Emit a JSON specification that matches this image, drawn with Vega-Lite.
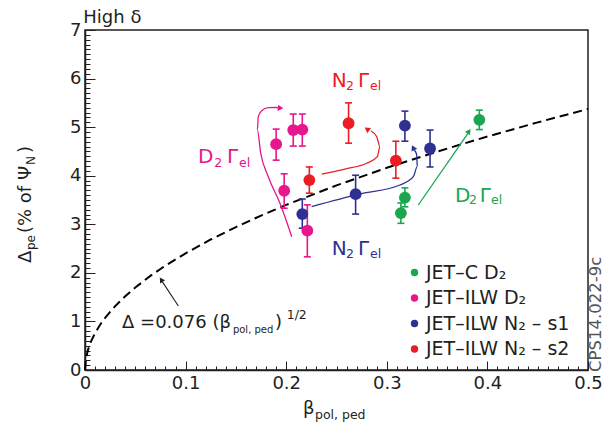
{
  "$schema": "https://vega.github.io/schema/vega-lite/v6.json",
  "width": 503,
  "height": 340,
  "autosize": {"type": "none"},
  "padding": {"left": 85, "top": 30, "right": 17, "bottom": 60},
  "background": "white",
  "config": {
    "font": "DejaVu Sans",
    "view": {"stroke": "#231F20", "strokeWidth": 1.5},
    "axis": {"labelColor": "#231F20", "tickColor": "#231F20", "domainColor": "#231F20", "labelFont": "DejaVu Sans", "grid": false, "domainWidth": 1.5, "tickWidth": 1}
  },
  "datasets": {
    "curve": [
      {"x": 0, "y": 0}, {"x": 0.001, "y": 0.24}, {"x": 0.003, "y": 0.416}, {"x": 0.006, "y": 0.589},
      {"x": 0.01, "y": 0.76}, {"x": 0.015, "y": 0.931}, {"x": 0.02, "y": 1.075}, {"x": 0.03, "y": 1.316},
      {"x": 0.04, "y": 1.52}, {"x": 0.05, "y": 1.699}, {"x": 0.065, "y": 1.938}, {"x": 0.08, "y": 2.15},
      {"x": 0.1, "y": 2.403}, {"x": 0.125, "y": 2.687}, {"x": 0.15, "y": 2.943}, {"x": 0.175, "y": 3.179},
      {"x": 0.2, "y": 3.399}, {"x": 0.25, "y": 3.8}, {"x": 0.3, "y": 4.163}, {"x": 0.35, "y": 4.496},
      {"x": 0.4, "y": 4.807}, {"x": 0.45, "y": 5.098}, {"x": 0.5, "y": 5.374}
    ],
    "pts": [
      {"series": "JET–C D₂", "x": 0.392, "y": 5.15, "ylo": 4.95, "yhi": 5.35},
      {"series": "JET–C D₂", "x": 0.318, "y": 3.55, "ylo": 3.36, "yhi": 3.75},
      {"series": "JET–C D₂", "x": 0.314, "y": 3.23, "ylo": 3.02, "yhi": 3.44},
      {"series": "JET–ILW N₂ – s1", "x": 0.216, "y": 3.21, "ylo": 2.92, "yhi": 3.52},
      {"series": "JET–ILW N₂ – s1", "x": 0.269, "y": 3.62, "ylo": 3.21, "yhi": 4.01},
      {"series": "JET–ILW N₂ – s1", "x": 0.318, "y": 5.03, "ylo": 4.71, "yhi": 5.33},
      {"series": "JET–ILW N₂ – s1", "x": 0.343, "y": 4.56, "ylo": 4.18, "yhi": 4.94},
      {"series": "JET–ILW N₂ – s2", "x": 0.262, "y": 5.08, "ylo": 4.67, "yhi": 5.5},
      {"series": "JET–ILW N₂ – s2", "x": 0.309, "y": 4.31, "ylo": 3.95, "yhi": 4.71},
      {"series": "JET–ILW N₂ – s2", "x": 0.223, "y": 3.91, "ylo": 3.64, "yhi": 4.18},
      {"series": "JET–ILW D₂", "x": 0.19, "y": 4.65, "ylo": 4.32, "yhi": 4.96},
      {"series": "JET–ILW D₂", "x": 0.207, "y": 4.94, "ylo": 4.61, "yhi": 5.27},
      {"series": "JET–ILW D₂", "x": 0.216, "y": 4.95, "ylo": 4.61, "yhi": 5.27},
      {"series": "JET–ILW D₂", "x": 0.198, "y": 3.69, "ylo": 3.33, "yhi": 4.04},
      {"series": "JET–ILW D₂", "x": 0.221, "y": 2.87, "ylo": 2.33, "yhi": 3.4}
    ],
    "arrows": [
      {"series": "JET–ILW D₂", "i": 0, "x": 0.2055, "y": 2.745},
      {"series": "JET–ILW D₂", "i": 1, "x": 0.1938, "y": 3.432},
      {"series": "JET–ILW D₂", "i": 2, "x": 0.1822, "y": 3.98},
      {"series": "JET–ILW D₂", "i": 3, "x": 0.1747, "y": 4.462},
      {"series": "JET–ILW D₂", "i": 4, "x": 0.1713, "y": 4.941},
      {"series": "JET–ILW D₂", "i": 5, "x": 0.1723, "y": 5.215},
      {"series": "JET–ILW D₂", "i": 6, "x": 0.1756, "y": 5.339},
      {"series": "JET–ILW D₂", "i": 7, "x": 0.1822, "y": 5.4},
      {"series": "JET–ILW D₂", "i": 8, "x": 0.1899, "y": 5.404},
      {"series": "JET–ILW D₂", "i": 9, "x": 0.1945, "y": 5.394},
      {"series": "JET–ILW N₂ – s2", "i": 0, "x": 0.2353, "y": 4.035},
      {"series": "JET–ILW N₂ – s2", "i": 1, "x": 0.2584, "y": 4.138},
      {"series": "JET–ILW N₂ – s2", "i": 2, "x": 0.28, "y": 4.256},
      {"series": "JET–ILW N₂ – s2", "i": 3, "x": 0.2906, "y": 4.392},
      {"series": "JET–ILW N₂ – s2", "i": 4, "x": 0.2932, "y": 4.597},
      {"series": "JET–ILW N₂ – s2", "i": 5, "x": 0.29, "y": 4.803},
      {"series": "JET–ILW N₂ – s2", "i": 6, "x": 0.2843, "y": 4.92},
      {"series": "JET–ILW N₂ – s1", "i": 0, "x": 0.2253, "y": 3.362},
      {"series": "JET–ILW N₂ – s1", "i": 1, "x": 0.2734, "y": 3.624},
      {"series": "JET–ILW N₂ – s1", "i": 2, "x": 0.3131, "y": 3.809},
      {"series": "JET–ILW N₂ – s1", "i": 3, "x": 0.3264, "y": 3.98},
      {"series": "JET–ILW N₂ – s1", "i": 4, "x": 0.3303, "y": 4.186},
      {"series": "JET–ILW N₂ – s1", "i": 5, "x": 0.3297, "y": 4.427},
      {"series": "JET–ILW N₂ – s1", "i": 6, "x": 0.3275, "y": 4.53},
      {"series": "JET–C D₂", "i": 0, "x": 0.3313, "y": 3.397},
      {"series": "JET–C D₂", "i": 1, "x": 0.381, "y": 4.88}
    ],
    "blackArrow": [
      {"i": 0, "x": 0.0928, "y": 1.318},
      {"i": 1, "x": 0.0765, "y": 1.83}
    ],
    "labelsMain": [
      {"series": "JET–ILW D₂", "t": "D", "x": 0.1123, "y": 4.262},
      {"series": "JET–ILW D₂", "t": "Γ", "x": 0.1412, "y": 4.262},
      {"series": "JET–ILW N₂ – s2", "t": "N", "x": 0.2452, "y": 5.833},
      {"series": "JET–ILW N₂ – s2", "t": "Γ", "x": 0.2714, "y": 5.833},
      {"series": "JET–ILW N₂ – s1", "t": "N", "x": 0.2452, "y": 2.368},
      {"series": "JET–ILW N₂ – s1", "t": "Γ", "x": 0.2714, "y": 2.368},
      {"series": "JET–C D₂", "t": "D", "x": 0.3678, "y": 3.465},
      {"series": "JET–C D₂", "t": "Γ", "x": 0.3925, "y": 3.465}
    ],
    "labelsSub": [
      {"series": "JET–ILW D₂", "t": "2", "x": 0.1285, "y": 4.18},
      {"series": "JET–ILW D₂", "t": "el", "x": 0.1531, "y": 4.18},
      {"series": "JET–ILW N₂ – s2", "t": "2", "x": 0.2594, "y": 5.765},
      {"series": "JET–ILW N₂ – s2", "t": "el", "x": 0.2833, "y": 5.765},
      {"series": "JET–ILW N₂ – s1", "t": "2", "x": 0.2594, "y": 2.3},
      {"series": "JET–ILW N₂ – s1", "t": "el", "x": 0.2833, "y": 2.3},
      {"series": "JET–C D₂", "t": "2", "x": 0.3818, "y": 3.418},
      {"series": "JET–C D₂", "t": "el", "x": 0.4037, "y": 3.418}
    ],
    "blackMain": [
      {"t": "Δ =0.076 (β", "x": 0.0368, "y": 0.865},
      {"t": ")", "x": 0.1888, "y": 0.865},
      {"t": "β", "x": 0.2167, "y": -0.906},
      {"t": "High δ", "x": -0.0017, "y": 7.138}
    ],
    "formulaSub": [
      {"t": "pol, ped", "x": 0.147, "y": 0.76}
    ],
    "midSub": [
      {"t": "1/2", "x": 0.2005, "y": 1.05},
      {"t": "pol, ped", "x": 0.2286, "y": -1.009}
    ],
    "yTitleMain": [
      {"t": "Δ", "x": -0.054, "y": 2.203},
      {"t": "(% of Ψ", "x": -0.054, "y": 2.82},
      {"t": ")", "x": -0.054, "y": 4.468}
    ],
    "yTitleSub": [
      {"t": "pe", "x": -0.05, "y": 2.47},
      {"t": "N", "x": -0.05, "y": 4.22}
    ],
    "stamp": [
      {"t": "CPS14.022-9c", "x": 0.5133, "y": -0.04}
    ]
  },
  "resolve": {"axis": {"x": "independent", "y": "independent"}},
  "layer": [
    {
      "data": {"name": "curve"},
      "mark": {"type": "line", "strokeDash": [9, 5], "strokeWidth": 2, "color": "#000000"},
      "encoding": {
        "x": {"field": "x", "type": "quantitative", "scale": {"domain": [0, 0.5], "nice": false, "zero": false},
          "axis": {"orient": "bottom", "values": [0, 0.1, 0.2, 0.3, 0.4, 0.5], "format": "~g", "title": null, "tickSize": -9, "labelPadding": 13, "labelFontSize": 18, "labelFlush": false}},
        "y": {"field": "y", "type": "quantitative", "scale": {"domain": [0, 7], "nice": false, "zero": false},
          "axis": {"orient": "left", "values": [0, 1, 2, 3, 4, 5, 6, 7], "format": "d", "title": null, "tickSize": -10, "labelPadding": 14, "labelFontSize": 18, "labelFlush": false}}
      }
    },
    {
      "data": {"name": "curve"},
      "mark": {"type": "line", "opacity": 0},
      "encoding": {
        "x": {"field": "x", "type": "quantitative", "scale": {"domain": [0, 0.5], "nice": false, "zero": false},
          "axis": {"orient": "bottom", "values": [0,0.01,0.02,0.03,0.04,0.05,0.06,0.07,0.08,0.09,0.1,0.11,0.12,0.13,0.14,0.15,0.16,0.17,0.18,0.19,0.2,0.21,0.22,0.23,0.24,0.25,0.26,0.27,0.28,0.29,0.3,0.31,0.32,0.33,0.34,0.35,0.36,0.37,0.38,0.39,0.4,0.41,0.42,0.43,0.44,0.45,0.46,0.47,0.48,0.49,0.5], "labels": false, "domain": false, "title": null, "tickSize": -4}},
        "y": {"field": "y", "type": "quantitative", "scale": {"domain": [0, 7], "nice": false, "zero": false},
          "axis": {"orient": "left", "values": [0,0.1,0.2,0.3,0.4,0.5,0.6,0.7,0.8,0.9,1,1.1,1.2,1.3,1.4,1.5,1.6,1.7,1.8,1.9,2,2.1,2.2,2.3,2.4,2.5,2.6,2.7,2.8,2.9,3,3.1,3.2,3.3,3.4,3.5,3.6,3.7,3.8,3.9,4,4.1,4.2,4.3,4.4,4.5,4.6,4.7,4.8,4.9,5,5.1,5.2,5.3,5.4,5.5,5.6,5.7,5.8,5.9,6,6.1,6.2,6.3,6.4,6.5,6.6,6.7,6.8,6.9,7], "labels": false, "domain": false, "title": null, "tickSize": -5}}
      }
    },
    {
      "data": {"name": "arrows"},
      "mark": {"type": "line", "strokeWidth": 1.3, "interpolate": "monotone"},
      "encoding": {
        "x": {"field": "x", "type": "quantitative", "scale": {"domain": [0, 0.5], "nice": false, "zero": false}, "axis": null},
        "y": {"field": "y", "type": "quantitative", "scale": {"domain": [0, 7], "nice": false, "zero": false}, "axis": null},
        "stroke": {"field": "series", "type": "nominal", "legend": null, "scale": {"domain": ["JET–ILW D₂", "JET–C D₂", "JET–ILW N₂ – s1", "JET–ILW N₂ – s2"], "range": ["#E6168C", "#1BA650", "#2E3192", "#EC1C24"]}},
        "detail": {"field": "series"},
        "order": {"field": "i", "type": "quantitative"}
      }
    },
    {
      "data": {"name": "blackArrow"},
      "mark": {"type": "line", "strokeWidth": 1.1, "color": "#231F20"},
      "encoding": {
        "x": {"field": "x", "type": "quantitative", "scale": {"domain": [0, 0.5], "nice": false, "zero": false}, "axis": null},
        "y": {"field": "y", "type": "quantitative", "scale": {"domain": [0, 7], "nice": false, "zero": false}, "axis": null},
        "order": {"field": "i", "type": "quantitative"}
      }
    },
    {
      "data": {"values": [{"x": 0.1935, "y": 5.394}]},
      "mark": {"type": "point", "shape": "triangle", "filled": true, "opacity": 1, "size": 40, "angle": 95, "color": "#E6168C"},
      "encoding": {
        "x": {"field": "x", "type": "quantitative", "scale": {"domain": [0, 0.5], "nice": false, "zero": false}, "axis": null},
        "y": {"field": "y", "type": "quantitative", "scale": {"domain": [0, 7], "nice": false, "zero": false}, "axis": null}
      }
    },
    {
      "data": {"values": [{"x": 0.281, "y": 4.95}]},
      "mark": {"type": "point", "shape": "triangle", "filled": true, "opacity": 1, "size": 40, "angle": 306, "color": "#EC1C24"},
      "encoding": {
        "x": {"field": "x", "type": "quantitative", "scale": {"domain": [0, 0.5], "nice": false, "zero": false}, "axis": null},
        "y": {"field": "y", "type": "quantitative", "scale": {"domain": [0, 7], "nice": false, "zero": false}, "axis": null}
      }
    },
    {
      "data": {"values": [{"x": 0.3266, "y": 4.56}]},
      "mark": {"type": "point", "shape": "triangle", "filled": true, "opacity": 1, "size": 40, "angle": 334, "color": "#2E3192"},
      "encoding": {
        "x": {"field": "x", "type": "quantitative", "scale": {"domain": [0, 0.5], "nice": false, "zero": false}, "axis": null},
        "y": {"field": "y", "type": "quantitative", "scale": {"domain": [0, 7], "nice": false, "zero": false}, "axis": null}
      }
    },
    {
      "data": {"values": [{"x": 0.3812, "y": 4.9}]},
      "mark": {"type": "point", "shape": "triangle", "filled": true, "opacity": 1, "size": 40, "angle": 35, "color": "#1BA650"},
      "encoding": {
        "x": {"field": "x", "type": "quantitative", "scale": {"domain": [0, 0.5], "nice": false, "zero": false}, "axis": null},
        "y": {"field": "y", "type": "quantitative", "scale": {"domain": [0, 7], "nice": false, "zero": false}, "axis": null}
      }
    },
    {
      "data": {"values": [{"x": 0.0762, "y": 1.845}]},
      "mark": {"type": "point", "shape": "triangle", "filled": true, "opacity": 1, "size": 35, "angle": 327, "color": "#231F20"},
      "encoding": {
        "x": {"field": "x", "type": "quantitative", "scale": {"domain": [0, 0.5], "nice": false, "zero": false}, "axis": null},
        "y": {"field": "y", "type": "quantitative", "scale": {"domain": [0, 7], "nice": false, "zero": false}, "axis": null}
      }
    },
    {
      "data": {"name": "pts"},
      "mark": {"type": "rule", "strokeWidth": 1.6},
      "encoding": {
        "x": {"field": "x", "type": "quantitative", "scale": {"domain": [0, 0.5], "nice": false, "zero": false}, "axis": null},
        "y": {"field": "ylo", "type": "quantitative", "scale": {"domain": [0, 7], "nice": false, "zero": false}, "axis": null},
        "y2": {"field": "yhi"},
        "stroke": {"field": "series", "type": "nominal", "legend": null, "scale": {"domain": ["JET–ILW D₂", "JET–C D₂", "JET–ILW N₂ – s1", "JET–ILW N₂ – s2"], "range": ["#E6168C", "#1BA650", "#2E3192", "#EC1C24"]}}
      }
    },
    {
      "data": {"name": "pts"},
      "mark": {"type": "tick", "orient": "horizontal", "size": 7, "thickness": 1.6, "opacity": 1},
      "encoding": {
        "x": {"field": "x", "type": "quantitative", "scale": {"domain": [0, 0.5], "nice": false, "zero": false}, "axis": null},
        "y": {"field": "ylo", "type": "quantitative", "scale": {"domain": [0, 7], "nice": false, "zero": false}, "axis": null},
        "fill": {"field": "series", "type": "nominal", "legend": null, "scale": {"domain": ["JET–ILW D₂", "JET–C D₂", "JET–ILW N₂ – s1", "JET–ILW N₂ – s2"], "range": ["#E6168C", "#1BA650", "#2E3192", "#EC1C24"]}}
      }
    },
    {
      "data": {"name": "pts"},
      "mark": {"type": "tick", "orient": "horizontal", "size": 7, "thickness": 1.6, "opacity": 1},
      "encoding": {
        "x": {"field": "x", "type": "quantitative", "scale": {"domain": [0, 0.5], "nice": false, "zero": false}, "axis": null},
        "y": {"field": "yhi", "type": "quantitative", "scale": {"domain": [0, 7], "nice": false, "zero": false}, "axis": null},
        "fill": {"field": "series", "type": "nominal", "legend": null, "scale": {"domain": ["JET–ILW D₂", "JET–C D₂", "JET–ILW N₂ – s1", "JET–ILW N₂ – s2"], "range": ["#E6168C", "#1BA650", "#2E3192", "#EC1C24"]}}
      }
    },
    {
      "data": {"name": "pts"},
      "mark": {"type": "point", "shape": "circle", "filled": true, "opacity": 1, "size": 140},
      "encoding": {
        "x": {"field": "x", "type": "quantitative", "scale": {"domain": [0, 0.5], "nice": false, "zero": false}, "axis": null},
        "y": {"field": "y", "type": "quantitative", "scale": {"domain": [0, 7], "nice": false, "zero": false}, "axis": null},
        "color": {"field": "series", "type": "nominal",
          "scale": {"domain": ["JET–C D₂", "JET–ILW D₂", "JET–ILW N₂ – s1", "JET–ILW N₂ – s2"], "range": ["#1BA650", "#E6168C", "#2E3192", "#EC1C24"]},
          "legend": {"orient": "none", "legendX": 320, "legendY": 233, "title": null, "labelFontSize": 19, "labelFont": "DejaVu Sans", "labelColor": "#231F20", "symbolType": "circle", "symbolSize": 55, "rowPadding": 5.5, "labelOffset": 2, "labelLimit": 300}}
      }
    },
    {
      "data": {"name": "labelsMain"},
      "mark": {"type": "text", "fontSize": 20, "align": "left", "baseline": "alphabetic", "font": "DejaVu Sans"},
      "encoding": {
        "x": {"field": "x", "type": "quantitative", "scale": {"domain": [0, 0.5], "nice": false, "zero": false}, "axis": null},
        "y": {"field": "y", "type": "quantitative", "scale": {"domain": [0, 7], "nice": false, "zero": false}, "axis": null},
        "text": {"field": "t"},
        "fill": {"field": "series", "type": "nominal", "legend": null, "scale": {"domain": ["JET–ILW D₂", "JET–C D₂", "JET–ILW N₂ – s1", "JET–ILW N₂ – s2"], "range": ["#E6168C", "#1BA650", "#2E3192", "#EC1C24"]}}
      }
    },
    {
      "data": {"name": "labelsSub"},
      "mark": {"type": "text", "fontSize": 12.5, "align": "left", "baseline": "alphabetic", "font": "DejaVu Sans"},
      "encoding": {
        "x": {"field": "x", "type": "quantitative", "scale": {"domain": [0, 0.5], "nice": false, "zero": false}, "axis": null},
        "y": {"field": "y", "type": "quantitative", "scale": {"domain": [0, 7], "nice": false, "zero": false}, "axis": null},
        "text": {"field": "t"},
        "fill": {"field": "series", "type": "nominal", "legend": null, "scale": {"domain": ["JET–ILW D₂", "JET–C D₂", "JET–ILW N₂ – s1", "JET–ILW N₂ – s2"], "range": ["#E6168C", "#1BA650", "#2E3192", "#EC1C24"]}}
      }
    },
    {
      "data": {"name": "blackMain"},
      "mark": {"type": "text", "fontSize": 18, "align": "left", "baseline": "alphabetic", "font": "DejaVu Sans", "color": "#231F20"},
      "encoding": {
        "x": {"field": "x", "type": "quantitative", "scale": {"domain": [0, 0.5], "nice": false, "zero": false}, "axis": null},
        "y": {"field": "y", "type": "quantitative", "scale": {"domain": [0, 7], "nice": false, "zero": false}, "axis": null},
        "text": {"field": "t"}
      }
    },
    {
      "data": {"name": "formulaSub"},
      "mark": {"type": "text", "fontSize": 10, "align": "left", "baseline": "alphabetic", "font": "DejaVu Sans", "color": "#231F20"},
      "encoding": {
        "x": {"field": "x", "type": "quantitative", "scale": {"domain": [0, 0.5], "nice": false, "zero": false}, "axis": null},
        "y": {"field": "y", "type": "quantitative", "scale": {"domain": [0, 7], "nice": false, "zero": false}, "axis": null},
        "text": {"field": "t"}
      }
    },
    {
      "data": {"name": "midSub"},
      "mark": {"type": "text", "fontSize": 12.5, "align": "left", "baseline": "alphabetic", "font": "DejaVu Sans", "color": "#231F20"},
      "encoding": {
        "x": {"field": "x", "type": "quantitative", "scale": {"domain": [0, 0.5], "nice": false, "zero": false}, "axis": null},
        "y": {"field": "y", "type": "quantitative", "scale": {"domain": [0, 7], "nice": false, "zero": false}, "axis": null},
        "text": {"field": "t"}
      }
    },
    {
      "data": {"name": "yTitleMain"},
      "mark": {"type": "text", "fontSize": 18, "align": "left", "baseline": "alphabetic", "angle": 270, "font": "DejaVu Sans", "color": "#231F20"},
      "encoding": {
        "x": {"field": "x", "type": "quantitative", "scale": {"domain": [0, 0.5], "nice": false, "zero": false}, "axis": null},
        "y": {"field": "y", "type": "quantitative", "scale": {"domain": [0, 7], "nice": false, "zero": false}, "axis": null},
        "text": {"field": "t"}
      }
    },
    {
      "data": {"name": "yTitleSub"},
      "mark": {"type": "text", "fontSize": 12, "align": "left", "baseline": "alphabetic", "angle": 270, "font": "DejaVu Sans", "color": "#231F20"},
      "encoding": {
        "x": {"field": "x", "type": "quantitative", "scale": {"domain": [0, 0.5], "nice": false, "zero": false}, "axis": null},
        "y": {"field": "y", "type": "quantitative", "scale": {"domain": [0, 7], "nice": false, "zero": false}, "axis": null},
        "text": {"field": "t"}
      }
    },
    {
      "data": {"name": "stamp"},
      "mark": {"type": "text", "fontSize": 16.5, "align": "left", "baseline": "alphabetic", "angle": 270, "font": "DejaVu Sans", "color": "#555555"},
      "encoding": {
        "x": {"field": "x", "type": "quantitative", "scale": {"domain": [0, 0.5], "nice": false, "zero": false}, "axis": null},
        "y": {"field": "y", "type": "quantitative", "scale": {"domain": [0, 7], "nice": false, "zero": false}, "axis": null},
        "text": {"field": "t"}
      }
    }
  ]
}
